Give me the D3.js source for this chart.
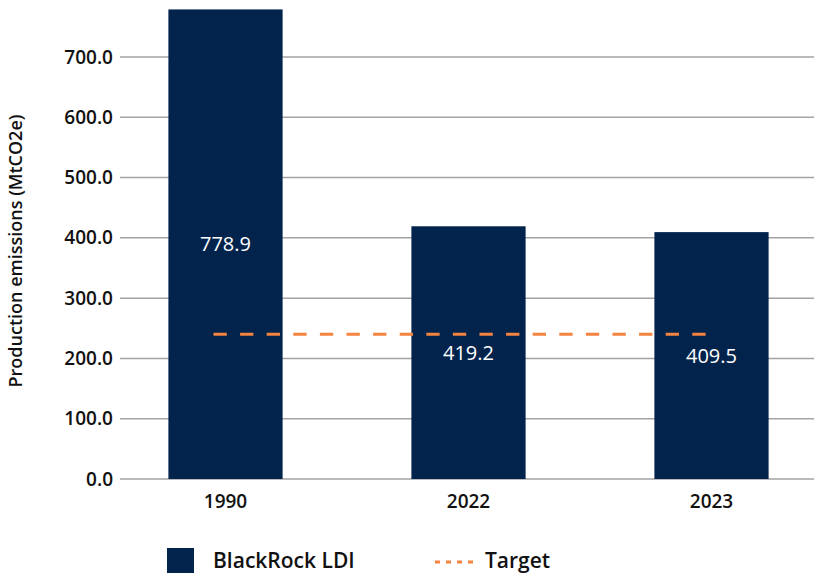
<!DOCTYPE html>
<html>
<head>
<meta charset="utf-8">
<script src="https://cdn.jsdelivr.net/npm/d3@7"></script>
<style>
  body { margin: 0; background: #fff; }
  svg { display: block; font-family: "Open Sans", "Noto Sans", sans-serif; }
</style>
</head>
<body>
<svg id="chart" width="814" height="573"></svg>
<script>
// emissions per year, MtCO2e
const years = ["1990", "2022", "2023"];
const emissions = [778.9, 419.2, 409.5];
const target = 240;
const yTicks = [0, 100, 200, 300, 400, 500, 600, 700];
const seriesNames = ["BlackRock LDI", "Target"];

const navy = "#02244c";
const orange = "#f4843f";

const width = 814, height = 573;
const gridLeft = 120;

const svg = d3.select("#chart");

// band scale spans a little past the right edge, like the original plot area
const x = d3.scaleBand()
  .domain(years)
  .range([104, 833])
  .paddingInner(0.53)
  .paddingOuter(0.265);

const y = d3.scaleLinear()
  .domain([0, 800])
  .range([479, -3.3]);

// gridlines
svg.append("g")
  .selectAll("line")
  .data(yTicks)
  .join("line")
  .attr("x1", gridLeft)
  .attr("x2", width)
  .attr("y1", d => y(d))
  .attr("y2", d => y(d))
  .attr("stroke", "#a3a3a3")
  .attr("stroke-width", 1.5);

// y axis labels
const yAxis = d3.axisLeft(y)
  .tickValues(yTicks)
  .tickFormat(d3.format(".1f"))
  .tickSize(0)
  .tickPadding(7);
svg.append("g")
  .attr("transform", "translate(" + gridLeft + ",0)")
  .call(yAxis)
  .call(g => g.select(".domain").remove())
  .selectAll("text")
  .attr("fill", "#111")
  .style("font-size", "19px")
  .style("font-weight", 600)
  .style("font-family", "Open Sans, sans-serif");

// bars
svg.append("g")
  .selectAll("rect")
  .data(years)
  .join("rect")
  .attr("x", d => x(d))
  .attr("width", x.bandwidth())
  .attr("y", (d, i) => y(emissions[i]))
  .attr("height", (d, i) => y(0) - y(emissions[i]))
  .attr("fill", navy);

// value labels inside the bars
svg.append("g")
  .selectAll("text")
  .data(years)
  .join("text")
  .attr("x", d => x(d) + x.bandwidth() / 2)
  .attr("y", (d, i) => (y(emissions[i]) + y(0)) / 2)
  .attr("dy", "0.35em")
  .attr("text-anchor", "middle")
  .attr("fill", "#fff")
  .style("font-size", "20px")
  .style("font-weight", 500)
  .text((d, i) => emissions[i].toFixed(1));

// x axis labels
const xAxis = d3.axisBottom(x).tickSize(0).tickPadding(16);
svg.append("g")
  .attr("transform", "translate(0," + y(0) + ")")
  .call(xAxis)
  .call(g => g.select(".domain").remove())
  .selectAll("text")
  .attr("fill", "#111")
  .style("font-size", "19px")
  .style("font-weight", 600)
  .style("font-family", "Open Sans, sans-serif");

// target line
const first = years[0], last = years[years.length - 1];
const targetLine = d3.line()
  .x(d => d[0])
  .y(d => y(d[1]));
svg.append("path")
  .datum([[x(first) + x.bandwidth() / 2 - 12, target], [x(last) + x.bandwidth() / 2, target]])
  .attr("d", targetLine)
  .attr("fill", "none")
  .attr("stroke", orange)
  .attr("stroke-width", 3)
  .attr("stroke-dasharray", "13.3,13.3");

// y axis title
svg.append("text")
  .attr("transform", "translate(22,251) rotate(-90)")
  .attr("text-anchor", "middle")
  .attr("fill", "#111")
  .style("font-size", "18px")
  .style("font-weight", 600)
  .text("Production emissions (MtCO2e)");

// legend
const legend = svg.append("g");
legend.append("rect")
  .attr("x", 167).attr("y", 548)
  .attr("width", 27).attr("height", 27)
  .attr("fill", navy);
legend.append("text")
  .attr("x", 213).attr("y", 568)
  .attr("fill", "#111")
  .style("font-size", "21px")
  .style("font-weight", 600)
  .text(seriesNames[0]);
legend.append("line")
  .attr("x1", 435).attr("x2", 473)
  .attr("y1", 562).attr("y2", 562)
  .attr("stroke", orange)
  .attr("stroke-width", 3)
  .attr("stroke-dasharray", "5,6");
legend.append("text")
  .attr("x", 485).attr("y", 568)
  .attr("fill", "#111")
  .style("font-size", "21px")
  .style("font-weight", 600)
  .text(seriesNames[1]);
</script>
</body>
</html>
